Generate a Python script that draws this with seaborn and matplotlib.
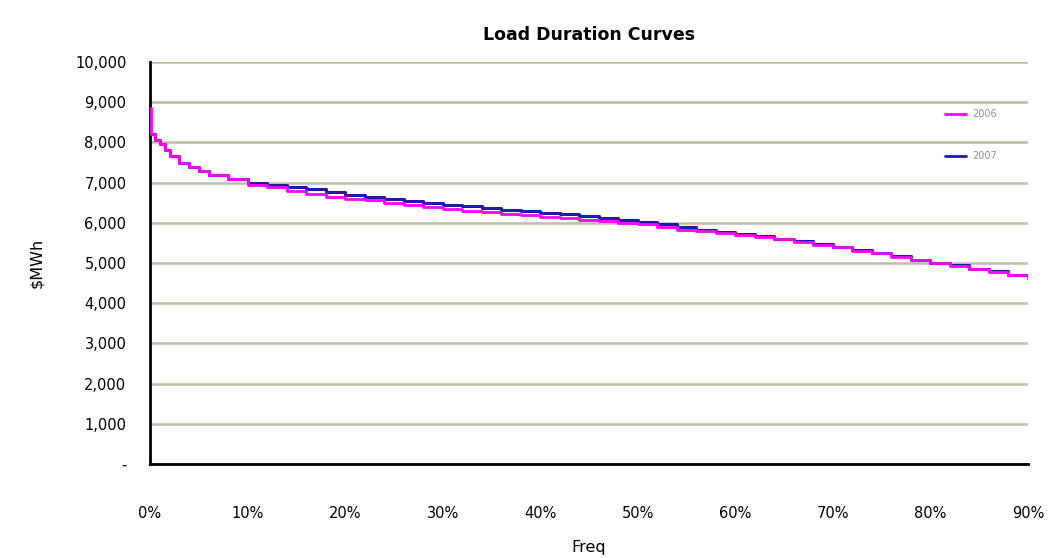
import matplotlib
matplotlib.use("Agg")
import matplotlib.pyplot as plt
import seaborn as sns
import pandas as pd
from matplotlib.lines import Line2D

# ---- data ----
freq_2007 = [0, 0.5, 1, 1.5, 2, 3, 4, 5, 6, 8, 10, 12, 14, 16, 18, 20, 22, 24, 26, 28,
             30, 32, 34, 36, 38, 40, 42, 44, 46, 48, 50, 52, 54, 56, 58, 60, 62, 64, 66,
             68, 70, 72, 74, 76, 78, 80, 82, 84, 86, 88, 90]
mw_2007 = [8200, 8050, 7950, 7800, 7650, 7480, 7380, 7280, 7180, 7100, 7000, 6930, 6880,
           6830, 6760, 6700, 6640, 6580, 6550, 6490, 6450, 6420, 6370, 6330, 6300, 6250,
           6210, 6170, 6120, 6060, 6020, 5960, 5900, 5830, 5770, 5720, 5660, 5600, 5540,
           5470, 5400, 5320, 5250, 5170, 5080, 5000, 4940, 4860, 4790, 4710, 4650]

freq_2006 = [0, 0.1, 0.5, 1, 1.5, 2, 3, 4, 5, 6, 8, 10, 12, 14, 16, 18, 20, 22, 24, 26, 28,
             30, 32, 34, 36, 38, 40, 42, 44, 46, 48, 50, 52, 54, 56, 58, 60, 62, 64, 66,
             68, 70, 72, 74, 76, 78, 80, 82, 84, 86, 88, 90]
mw_2006 = [8850, 8200, 8050, 7950, 7800, 7650, 7480, 7380, 7280, 7180, 7100, 6950, 6880,
           6800, 6720, 6650, 6600, 6560, 6500, 6450, 6400, 6350, 6300, 6260, 6230, 6190,
           6150, 6120, 6080, 6040, 6000, 5980, 5900, 5830, 5790, 5740, 5700, 5650, 5590,
           5530, 5460, 5390, 5310, 5240, 5160, 5070, 4990, 4920, 4840, 4770, 4690, 4600]

x_ticks = [0, 10, 20, 30, 40, 50, 60, 70, 80, 90]
y_ticks = [0, 1000, 2000, 3000, 4000, 5000, 6000, 7000, 8000, 9000, 10000]
series_names = ["2006", "2007"]
series_colors = ["#FF00FF", "#1C1CA8"]

sns.set_theme(style="white")
plt.rcParams['font.family'] = ['DejaVu Sans']

fig = plt.figure(figsize=(10.48, 5.58), dpi=100)
ax = fig.add_axes([150/1048, 1-464/558, (1028-150)/1048, (464-62)/558])

df07 = pd.DataFrame({"freq": freq_2007, "mw": mw_2007})
df06 = pd.DataFrame({"freq": freq_2006, "mw": mw_2006})

sns.lineplot(data=df07, x="freq", y="mw", ax=ax, color=series_colors[1],
             drawstyle="steps-post", linewidth=2.2, zorder=3)
sns.lineplot(data=df06, x="freq", y="mw", ax=ax, color=series_colors[0],
             drawstyle="steps-post", linewidth=2.0, zorder=4)

ax.set_xlim(0, 90)
ax.set_ylim(0, 10000)
ax.set_xticks(x_ticks)
ax.set_xticklabels([f"{t}%" for t in x_ticks])
ax.set_yticks(y_ticks)
ax.set_yticklabels(["-" if v == 0 else f"{v:,}" for v in y_ticks])

ax.grid(axis="y", color="#BDBDAE", linewidth=1.8)
ax.grid(axis="x", visible=False)
for s in ["top", "right"]:
    ax.spines[s].set_visible(False)
for s in ["left", "bottom"]:
    ax.spines[s].set_visible(True)
    ax.spines[s].set_color("black")
    ax.spines[s].set_linewidth(2)
ax.tick_params(axis="both", which="both", width=1.5, color="black",
               labelsize=10.5, labelcolor="black")
ax.tick_params(axis="x", direction="out", pad=20, length=10)
ax.tick_params(axis="y", direction="inout", pad=10, length=14)
ax.set_axisbelow(True)

ax.set_xlabel("Freq", fontsize=11.5, labelpad=14, color="black")
ax.set_ylabel("$MWh", fontsize=11.5, labelpad=22, color="black")
ax.set_title("Load Duration Curves", fontsize=12.5, fontweight="bold", pad=16,
             color="black")

handles = [Line2D([0], [0], color=c, linewidth=2) for c in series_colors]
leg = ax.legend(handles, series_names, loc="upper left", bbox_to_anchor=(0.895, 0.905),
                frameon=False, fontsize=7, labelspacing=3.3, handlelength=2.2,
                handletextpad=0.6)
for t in leg.get_texts():
    t.set_color("#9090A0")

fig.savefig("out.png", dpi=100)
